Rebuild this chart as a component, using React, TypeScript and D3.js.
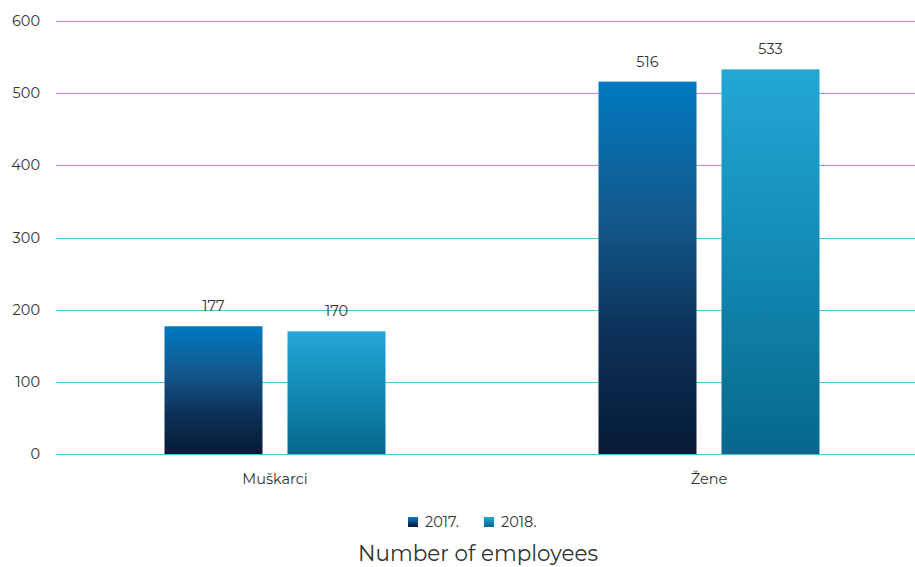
import React from "react";
import * as d3 from "d3";

const categories = ["Muškarci", "Žene"];
const seriesNames = ["2017.", "2018."];
const values2017 = [177, 516];
const values2018 = [170, 533];
const yTicks = [0, 100, 200, 300, 400, 500, 600];
const title = "Number of employees";

const W = 915;
const H = 567;

export default function App() {
  const y = d3.scaleLinear().domain([0, 600]).range([454, 21]);
  const x0 = d3.scaleBand<string>().domain(categories).range([58, 926]);
  const series = [values2017, values2018];
  const barW = 98;
  const gap = 25;
  const font = "Montserrat, 'Open Sans', sans-serif";
  const grads = [
    [
      ["0%", "#0079c1"],
      ["35%", "#135a8e"],
      ["70%", "#0c2f55"],
      ["100%", "#061b38"],
    ],
    [
      ["0%", "#24a7d6"],
      ["40%", "#1590bb"],
      ["100%", "#06678b"],
    ],
  ];
  return (
    <svg width={W} height={H} style={{ position: "absolute", left: 0, top: 0 }} fontFamily={font}>
      <defs>
        {grads.map((stops, i) => (
          <linearGradient key={i} id={`g${i}`} x1="0" y1="0" x2="0" y2="1">
            {stops.map(([o, c]) => (
              <stop key={o} offset={o} stopColor={c} />
            ))}
          </linearGradient>
        ))}
      </defs>
      {yTicks.map((t) => {
        const ly = Math.round(y(t)) + 0.5;
        return (
          <g key={t}>
            <line x1={56} x2={915} y1={ly} y2={ly} stroke="#4fc1dc" strokeWidth={1} />
            <text x={40} y={y(t)} dy="0.35em" textAnchor="end" fontSize={14.5} fill="#333">
              {t}
            </text>
          </g>
        );
      })}
      {categories.map((c, ci) => {
        const cx = (x0(c) as number) + x0.bandwidth() / 2;
        return (
          <g key={c}>
            {series.map((vals, si) => {
              const bx = si === 0 ? cx - gap / 2 - barW : cx + gap / 2;
              const v = vals[ci];
              return (
                <g key={si}>
                  <rect x={bx} y={y(v)} width={barW} height={y(0) - y(v)} fill={`url(#g${si})`} />
                  <text x={bx + barW / 2} y={y(v) - 15} textAnchor="middle" fontSize={14.5} fill="#333">
                    {v}
                  </text>
                </g>
              );
            })}
            <text x={cx} y={484} textAnchor="middle" fontSize={14.5} fill="#333">
              {c}
            </text>
          </g>
        );
      })}
      {seriesNames.map((s, i) => {
        const lx = i === 0 ? 408 : 484;
        return (
          <g key={s}>
            <rect x={lx} y={517} width={10} height={10} fill={`url(#g${i})`} />
            <text x={lx + 17} y={522} dy="0.35em" fontSize={14.5} fill="#333">
              {s}
            </text>
          </g>
        );
      })}
      <text x={478} y={561} textAnchor="middle" fontSize={21.5} fill="#333">
        {title}
      </text>
    </svg>
  );
}
